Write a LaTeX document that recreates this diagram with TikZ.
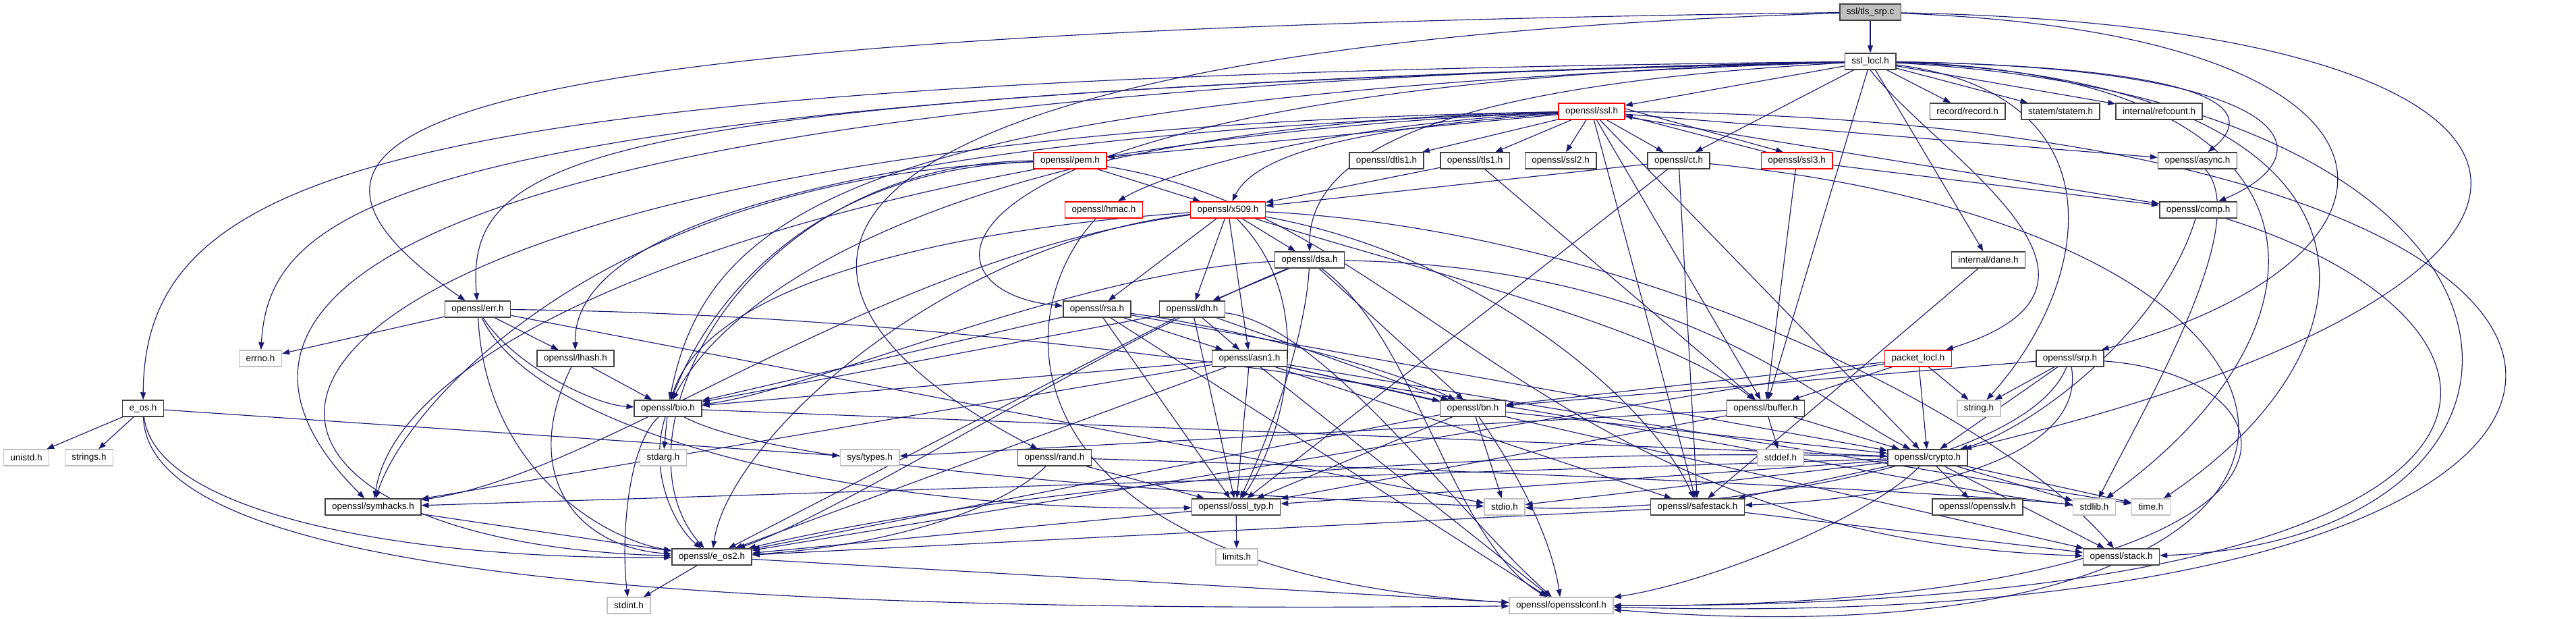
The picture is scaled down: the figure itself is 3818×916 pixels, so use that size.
\documentclass[tikz,border=0pt]{standalone}
\usepackage{fontspec}
\setmainfont{Liberation Sans}
\usepackage{xcolor}
\usepackage{tikz}
\usetikzlibrary{arrows.meta}
\definecolor{edgeBlue}{HTML}{191970}
\definecolor{boxDark}{HTML}{404040}
\definecolor{sysGray}{HTML}{BFBFBF}
\definecolor{srcGray}{HTML}{BFBFBF}
\pgfdeclarelayer{paper}
\pgfdeclarelayer{wires}
\pgfsetlayers{paper,wires,main}

\begin{document}
\begin{tikzpicture}[x=1pt, y=-1pt,
  hdr/.style={draw=boxDark, line width=1.5pt, fill=white, minimum height=24pt,
    inner xsep=10pt, inner ysep=0pt, font=\fontsize{13.5}{16}\selectfont},
  sys/.style={hdr, draw=sysGray},
  trunc/.style={hdr, draw=red},
  srcfile/.style={hdr, fill=srcGray},
  dep/.style={edgeBlue, line width=1.15pt, -{Triangle[length=11pt,width=8pt]}}]
\useasboundingbox (0,0) rectangle (3818,916);
\begin{pgfonlayer}{paper}
  \fill[white] (0,0) rectangle (3818,916);
\end{pgfonlayer}
% ranks 1-3: the file, ssl_locl.h and openssl/ssl.h
\node[srcfile] (tlssrp) at (2772,18) {ssl/tls\_srp.c};
\node[hdr] (ssllocl) at (2772,91) {ssl\_locl.h};
\node[trunc] (ssl) at (2359,165) {openssl/ssl.h};
\node[hdr] (record) at (2916,165) {record/record.h};
\node[hdr] (statem) at (3054,165) {statem/statem.h};
\node[hdr] (refcount) at (3200,165) {internal/refcount.h};
% ranks 4-6
\node[hdr] (dtlsone) at (2055,238) {openssl/dtls1.h};
\node[hdr] (tlsone) at (2186,238) {openssl/tls1.h};
\node[hdr] (ssltwo) at (2313,238) {openssl/ssl2.h};
\node[hdr] (ct) at (2488,238) {openssl/ct.h};
\node[trunc] (sslthree) at (2663,238) {openssl/ssl3.h};
\node[trunc] (pem) at (1586,238) {openssl/pem.h};
\node[hdr] (async) at (3257,238) {openssl/async.h};
\node[trunc] (hmac) at (1636,311) {openssl/hmac.h};
\node[trunc] (xfive) at (1820,311) {openssl/x509.h};
\node[hdr] (comp) at (3258,311) {openssl/comp.h};
\node[hdr] (dsa) at (1941,385) {openssl/dsa.h};
\node[hdr] (dane) at (2947,385) {internal/dane.h};
% ranks 7-9
\node[hdr] (err) at (708,458) {openssl/err.h};
\node[hdr] (rsa) at (1626,458) {openssl/rsa.h};
\node[hdr] (dh) at (1767,458) {openssl/dh.h};
\node[sys] (errno) at (386,531) {errno.h};
\node[hdr] (lhash) at (853,531) {openssl/lhash.h};
\node[hdr] (asn) at (1852,531) {openssl/asn1.h};
\node[trunc] (packet) at (2843,531) {packet\_locl.h};
\node[hdr] (srp) at (3068,531) {openssl/srp.h};
\node[hdr] (eos) at (212,605) {e\_os.h};
\node[hdr] (bio) at (990,605) {openssl/bio.h};
\node[hdr] (bn) at (2183,605) {openssl/bn.h};
\node[hdr] (buffer) at (2617,605) {openssl/buffer.h};
\node[sys] (string) at (2933,605) {string.h};
% ranks 10-13
\node[sys] (unistd) at (39,678) {unistd.h};
\node[sys] (strings) at (132,678) {strings.h};
\node[sys] (stdarg) at (983,678) {stdarg.h};
\node[sys] (systypes) at (1289,678) {sys/types.h};
\node[hdr] (rand) at (1563,678) {openssl/rand.h};
\node[sys] (stddef) at (2639,678) {stddef.h};
\node[hdr] (crypto) at (2857,678) {openssl/crypto.h};
\node[hdr] (symhacks) at (553,751) {openssl/symhacks.h};
\node[hdr] (ossltyp) at (1832,751) {openssl/ossl\_typ.h};
\node[sys] (stdio) at (2230,751) {stdio.h};
\node[hdr] (safestack) at (2516,751) {openssl/safestack.h};
\node[hdr] (opensslv) at (2931,751) {openssl/opensslv.h};
\node[sys] (stdlib) at (3104,751) {stdlib.h};
\node[sys] (time) at (3188,751) {time.h};
\node[hdr] (eostwo) at (1055,825) {openssl/e\_os2.h};
\node[sys] (limits) at (1833,825) {limits.h};
\node[hdr] (stack) at (3144,825) {openssl/stack.h};
\node[sys] (stdint) at (932,897) {stdint.h};
\node[sys] (conf) at (2314,897) {openssl/opensslconf.h};

\begin{pgfonlayer}{wires}
% includes of the source file
\draw[dep] (tlssrp) -- (ssllocl);
\draw[dep] (tlssrp) .. controls (700,45) and (290,170) .. (err);
\draw[dep] (tlssrp) .. controls (1100,70) and (1060,420) .. (rand);
\draw[dep] (tlssrp) .. controls (3620,50) and (3620,380) .. (srp);
\draw[dep] (tlssrp) .. controls (3900,40) and (3950,420) .. (crypto);
% ssl_locl.h
\draw[dep] (ssllocl) -- (ssl);
\draw[dep] (ssllocl) -- (record);
\draw[dep] (ssllocl) -- (statem);
\draw[dep] (ssllocl) -- (refcount);
\draw[dep] (ssllocl) -- (ct);
\draw[dep] (ssllocl) -- (buffer);
\draw[dep] (ssllocl) -- (dane);
\draw[dep] (ssllocl) .. controls (3320,100) and (3340,170) .. (async);
\draw[dep] (ssllocl) .. controls (3420,100) and (3450,230) .. (comp);
\draw[dep] (ssllocl) .. controls (600,115) and (215,240) .. (eos);
\draw[dep] (ssllocl) .. controls (650,130) and (220,420) .. (symhacks);
\draw[dep] (ssllocl) .. controls (600,140) and (400,300) .. (errno);
\draw[dep] (ssllocl) .. controls (850,140) and (690,230) .. (err);
\draw[dep] (ssllocl) .. controls (1300,140) and (1050,300) .. (bio);
\draw[dep] (ssllocl) .. controls (1350,125) and (1330,430) .. (rsa);
\draw[dep] (ssllocl) .. controls (2150,125) and (1940,220) .. (dsa);
\draw[dep] (ssllocl.south) .. controls (2870,230) and (3200,420) .. (packet);
\draw[dep] (ssllocl) .. controls (3150,140) and (3100,420) .. (string);
\draw[dep] (ssllocl) .. controls (3480,110) and (3480,480) .. (stdlib);
\draw[dep] (ssllocl) .. controls (3560,120) and (3560,500) .. (time);
\draw[dep] (ssllocl) .. controls (3850,150) and (3850,800) .. (stack);
% openssl/ssl.h
\draw[dep] (ssl) -- (dtlsone);
\draw[dep] (ssl) -- (tlsone);
\draw[dep] (ssl) -- (ssltwo);
\draw[dep] (ssl) -- (ct);
\draw[dep] ([yshift=4pt]ssl.east) -- ([xshift=-20pt]sslthree.north);
\draw[dep] ([xshift=-45pt]sslthree.north) -- ([yshift=-6pt]ssl.east);
\draw[dep] (ssl) .. controls (2000,190) and (1860,230) .. (xfive);
\draw[dep] (ssl) -- (pem);
\draw[dep] (ssl) .. controls (1950,185) and (1720,260) .. (hmac);
\draw[dep] (ssl) -- (async);
\draw[dep] (ssl) -- (comp);
\draw[dep] (ssl) .. controls (200,200) and (150,800) .. (eostwo);
\draw[dep] (ssl) .. controls (4150,180) and (4150,950) .. (conf);
\draw[dep] (ssl) .. controls (1500,180) and (1100,400) .. (bio);
\draw[dep] (ssl) -- (crypto);
\draw[dep] (ssl) .. controls (1000,210) and (850,400) .. (lhash);
\draw[dep] (ssl) -- (buffer);
\draw[dep] (ssl) -- (safestack);
\draw[dep] (ssl) .. controls (1400,200) and (600,450) .. (symhacks);
% ssl3, tls1, ct, pem, hmac
\draw[dep] (sslthree) -- (comp);
\draw[dep] (sslthree) -- (buffer);
\draw[dep] (tlsone) -- (buffer);
\draw[dep] (tlsone) -- (xfive);
\draw[dep] (ct) -- (xfive);
\draw[dep] (ct) -- (safestack);
\draw[dep] (ct) -- (ossltyp);
\draw[dep] (ct) .. controls (3600,350) and (3600,1000) .. (conf);
\draw[dep] (pem) -- (xfive);
\draw[dep] (pem) .. controls (1100,240) and (900,650) .. (eostwo);
\draw[dep] (pem) .. controls (1200,250) and (1050,450) .. (bio);
\draw[dep] (pem) .. controls (900,260) and (600,600) .. (symhacks);
\draw[dep] (pem) .. controls (2100,320) and (2300,800) .. (stack);
\draw[dep] (hmac) .. controls (1480,480) and (1500,850) .. (conf);
% openssl/x509.h
\draw[dep] (xfive) -- (rsa);
\draw[dep] (xfive) -- (dh);
\draw[dep] (xfive) -- (dsa);
\draw[dep] (xfive) -- (asn);
\draw[dep] (xfive) .. controls (1400,340) and (1050,420) .. (bio);
\draw[dep] (xfive) .. controls (1400,360) and (1080,650) .. (eostwo);
\draw[dep] (xfive) .. controls (1300,380) and (900,700) .. (symhacks);
\draw[dep] (xfive) .. controls (1960,450) and (1900,650) .. (ossltyp);
\draw[dep] (xfive) .. controls (2100,400) and (2450,480) .. (buffer);
\draw[dep] (xfive) .. controls (2200,380) and (2450,600) .. (safestack);
\draw[dep] (xfive) .. controls (2400,340) and (2950,600) .. (stack);
% dsa, rsa, dh
\draw[dep] (dsa) -- (dh);
\draw[dep] (dsa) .. controls (1600,400) and (1200,580) .. (bio);
\draw[dep] (dsa) .. controls (1650,500) and (1250,760) .. (eostwo);
\draw[dep] (dsa) .. controls (1935,500) and (1880,650) .. (ossltyp);
\draw[dep] (dsa) -- (bn);
\draw[dep] (dsa) .. controls (2500,395) and (2700,600) .. (crypto);
\draw[dep] (dsa) .. controls (2100,500) and (2150,800) .. (conf);
\draw[dep] (rsa) -- (asn);
\draw[dep] (rsa) -- (bio);
\draw[dep] (rsa) -- (ossltyp);
\draw[dep] (rsa) .. controls (1800,480) and (2050,540) .. (bn);
\draw[dep] (rsa) -- (crypto);
\draw[dep] (rsa) -- (conf);
\draw[dep] (dh) -- (asn);
\draw[dep] (dh) -- (bio);
\draw[dep] (dh) -- (eostwo);
\draw[dep] (dh) -- (ossltyp);
\draw[dep] (dh) -- (bn);
\draw[dep] (dh) .. controls (1960,480) and (2150,750) .. (conf);
% openssl/asn1.h
\draw[dep] (asn) -- (bn);
\draw[dep] (asn) -- (bio);
\draw[dep] (asn) -- (ossltyp);
\draw[dep] (asn) -- (eostwo);
\draw[dep] (asn) -- (symhacks);
\draw[dep] (asn) -- (conf);
\draw[dep] (asn) -- (safestack);
\draw[dep] (asn) -- (stack);
\draw[dep] (asn) -- (time);
% err, lhash, e_os, bio
\draw[dep] (err) -- (errno);
\draw[dep] (err) -- (lhash);
\draw[dep] (err) .. controls (760,540) and (880,600) .. (bio);
\draw[dep] (err) .. controls (720,700) and (900,800) .. (eostwo);
\draw[dep] (err) -- (stdio);
\draw[dep] (err) .. controls (800,650) and (1300,760) .. (ossltyp);
\draw[dep] (err) .. controls (1800,470) and (2800,720) .. (stdlib);
\draw[dep] (lhash) -- (bio);
\draw[dep] (lhash) .. controls (770,700) and (850,810) .. (eostwo);
\draw[dep] (eos) -- (unistd);
\draw[dep] (eos) -- (strings);
\draw[dep] (eos) -- (systypes);
\draw[dep] (eos) .. controls (230,760) and (600,830) .. (eostwo);
\draw[dep] (eos) .. controls (220,850) and (1000,910) .. (conf);
\draw[dep] (bio) -- (stdarg);
\draw[dep] (bio) .. controls (960,700) and (1000,780) .. (eostwo);
\draw[dep] (bio) .. controls (930,660) and (920,800) .. (stdint);
\draw[dep] (bio) -- (crypto);
\draw[dep] (bio) .. controls (1150,690) and (1700,730) .. (stdio);
% openssl/crypto.h
\draw[dep] (crypto) -- (stdlib);
\draw[dep] (crypto) -- (time);
\draw[dep] (crypto) -- (opensslv);
\draw[dep] (crypto) -- (stack);
\draw[dep] (crypto) -- (safestack);
\draw[dep] (crypto) -- (ossltyp);
\draw[dep] (crypto) -- (stdio);
\draw[dep] (crypto) -- (symhacks);
\draw[dep] (crypto) .. controls (2200,660) and (1500,720) .. (eostwo);
\draw[dep] (crypto) .. controls (2780,760) and (2550,860) .. (conf);
% lower headers
\draw[dep] (safestack) -- (stack);
\draw[dep] (safestack) -- (eostwo);
\draw[dep] (symhacks) -- (eostwo);
\draw[dep] (ossltyp) -- (limits);
\draw[dep] (ossltyp) -- (eostwo);
\draw[dep] (eostwo) -- (conf);
\draw[dep] (eostwo) -- (stdint);
\draw[dep] (rand) .. controls (1480,760) and (1300,810) .. (eostwo);
\draw[dep] (rand) -- (ossltyp);
\draw[dep] (rand) .. controls (2300,700) and (2900,730) .. (stdlib);
\draw[dep] (bn) -- (stdio);
\draw[dep] (bn) .. controls (2250,700) and (2300,800) .. (conf);
\draw[dep] (bn) -- (ossltyp);
\draw[dep] (bn) -- (eostwo);
\draw[dep] (bn) -- (crypto);
\draw[dep] (buffer) -- (stddef);
\draw[dep] (buffer) -- (crypto);
\draw[dep] (buffer) -- (ossltyp);
\draw[dep] (buffer) -- (systypes);
% packet_locl.h, srp, comp, async, dane
\draw[dep] (packet) -- (string);
\draw[dep] (packet) -- (crypto);
\draw[dep] (packet) -- (bn);
\draw[dep] (packet) -- (buffer);
\draw[dep] (packet) -- (eostwo);
\draw[dep] (srp) -- (string);
\draw[dep] (srp) -- (crypto);
\draw[dep] (srp) -- (bn);
\draw[dep] (srp) .. controls (3000,700) and (2500,760) .. (stdio);
\draw[dep] (srp) .. controls (3095,690) and (2800,740) .. (safestack);
\draw[dep] (srp) .. controls (3450,560) and (3480,900) .. (conf);
\draw[dep] (comp) .. controls (3200,500) and (3000,640) .. (crypto);
\draw[dep] (comp) .. controls (3800,480) and (3850,900) .. (conf);
\draw[dep] (async) .. controls (3340,330) and (3180,600) .. (stdlib);
\draw[dep] (dane) -- (safestack);
\end{pgfonlayer}
\end{tikzpicture}
\end{document}
